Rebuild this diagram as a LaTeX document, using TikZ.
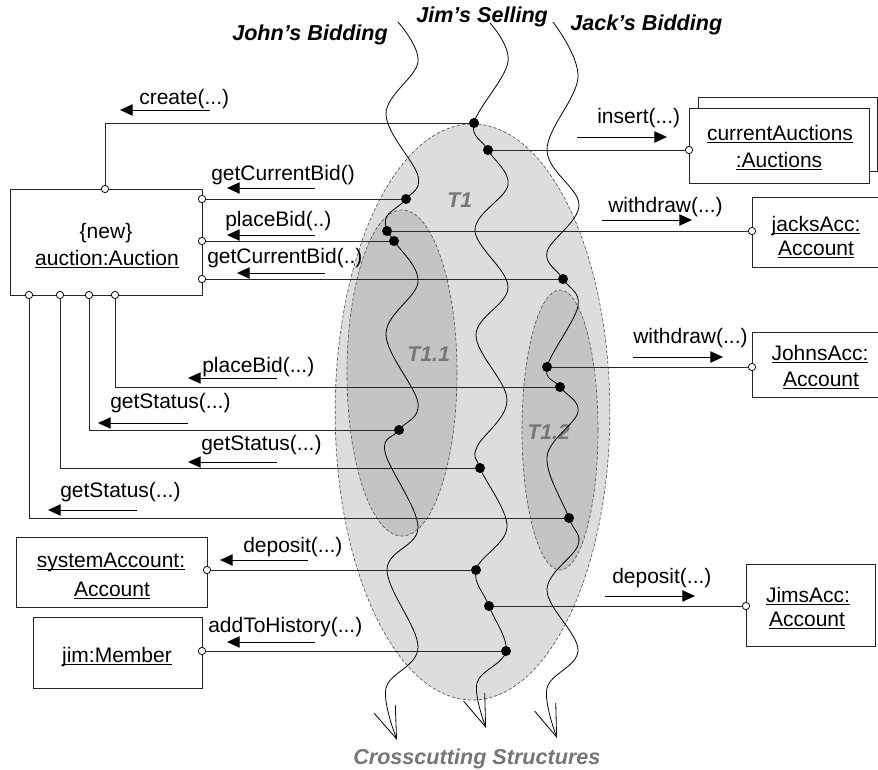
\documentclass[tikz,border=0pt]{standalone}
\usepackage{fontspec}
\setmainfont{Liberation Sans}
\usetikzlibrary{arrows.meta,shapes.geometric}

\definecolor{outerzone}{RGB}{221,221,221}
\definecolor{innerzone}{RGB}{196,196,196}
\definecolor{zonetext}{RGB}{118,118,118}
\definecolor{wirecol}{RGB}{40,40,40}

% underline at a fixed distance below the baseline
\newcommand\uln[1]{\setbox0\hbox{#1}\rlap{\rule[-2.2pt]{\wd0}{0.9pt}}\box0}
% short message arrow next to a call label
\newcommand\callarrow[4]{%
  \coordinate (#1s) at (#2,#4);
  \coordinate (#1t) at (#3,#4);
  \draw[msgarrow] (#1s) -- (#1t);}

\begin{document}
\begin{tikzpicture}[x=0.75pt,y=-0.75pt,
  font=\fontsize{15.75}{19}\selectfont,
  zone/.style={ellipse, draw=black!65, line width=0.5pt,
    dash pattern=on 2.5pt off 1.5pt, inner sep=0},
  zonelabel/.style={anchor=base west, inner sep=0, text=zonetext,
    font=\fontsize{16}{19}\selectfont\bfseries\itshape},
  obj/.style={rectangle, draw=black!85, line width=0.75pt, fill=white, inner sep=0},
  objtext/.style={anchor=base, inner sep=0},
  port/.style={circle, draw=black, line width=0.6pt, fill=white, inner sep=0,
    minimum size=5.5pt},
  joint/.style={circle, fill=black, inner sep=0, minimum size=7.5pt},
  wire/.style={draw=wirecol, line width=0.75pt},
  thread/.style={line width=0.6pt, black,
    -{Straight Barb[length=24pt,width=17pt,line width=0.6pt]}},
  call/.style={anchor=base west, inner sep=0},
  msgarrow/.style={line width=0.75pt, black,
    -{Triangle[length=9.5pt,width=8.5pt]}},
  title/.style={anchor=base west, inner sep=0,
    font=\fontsize{16.2}{19}\selectfont\bfseries\itshape}
]
\useasboundingbox (0,0) rectangle (878,769);

% ---- transaction zones ----
\node[zone, fill=outerzone, minimum width=206pt, minimum height=432pt] (T1) at (472.5,412) {};
\node[zone, fill=innerzone, minimum width=82.5pt, minimum height=244.5pt] (T11) at (402,373) {};
\node[zone, fill=innerzone, minimum width=57pt, minimum height=210pt] (T12) at (560,430) {};
\node[zonelabel] (T1lbl) at (447,207) {T1};
\node[zonelabel] (T11lbl) at (407,361) {T1.1};
\node[zonelabel] (T12lbl) at (527,439) {T1.2};

% ---- objects ----
\node[obj, minimum width=144pt, minimum height=79.5pt] (auction) at (106,242) {};
\node[objtext] (auctionA) at (106,238) {\{new\}};
\node[objtext] (auctionB) at (107,265) {\uln{auction:Auction}};

\node[obj, minimum width=134.25pt, minimum height=55.5pt] (curback) at (787.5,134) {};
\node[obj, minimum width=135pt, minimum height=56.25pt] (cur) at (779,145.5) {};
\node[objtext] (curA) at (780,140) {\uln{currentAuctions}};
\node[objtext] (curB) at (779,167) {\uln{:Auctions}};

\node[obj, minimum width=99.75pt, minimum height=52.5pt] (jacks) at (818.5,232) {};
\node[objtext] (jacksA) at (816,231) {\uln{jacksAcc:}};
\node[objtext] (jacksB) at (816,255) {\uln{Account}};

\node[obj, minimum width=99.75pt, minimum height=48.75pt] (johns) at (818.5,364.5) {};
\node[objtext] (johnsA) at (820,360) {\uln{JohnsAcc:}};
\node[objtext] (johnsB) at (821,386) {\uln{Account}};

\node[obj, minimum width=143.25pt, minimum height=52.5pt] (sys) at (111.5,572) {};
\node[objtext] (sysA) at (111,567) {\uln{systemAccount:}};
\node[objtext] (sysB) at (112,596) {\uln{Account}};

\node[obj, minimum width=126.75pt, minimum height=53.25pt] (jim) at (117.5,652.5) {};
\node[objtext] (jimA) at (117,662) {\uln{jim:Member}};

\node[obj, minimum width=96.75pt, minimum height=61.5pt] (jimsacc) at (810.5,605) {};
\node[objtext] (jimsA) at (808,602) {\uln{JimsAcc:}};
\node[objtext] (jimsB) at (807,626) {\uln{Account}};

% ---- ports ----
\node[port] (pTop) at (105,189) {};
\node[port] (pR1) at (202,199) {};
\node[port] (pR2) at (202,241) {};
\node[port] (pR3) at (202,279) {};
\node[port] (pB1) at (29,295) {};
\node[port] (pB2) at (60,295) {};
\node[port] (pB3) at (89,295) {};
\node[port] (pB4) at (115,295) {};
\node[port] (pCur) at (689,150) {};
\node[port] (pJacks) at (752,231) {};
\node[port] (pJohns) at (752,367) {};
\node[port] (pSys) at (207,570) {};
\node[port] (pJim) at (202,651) {};
\node[port] (pJims) at (746,606) {};

% ---- joints on the threads ----
\node[joint] (j1) at (406,199) {};
\node[joint] (j2) at (387,231) {};
\node[joint] (j3) at (394,241) {};
\node[joint] (j4) at (399,430) {};
\node[joint] (m1) at (474,123) {};
\node[joint] (m2) at (488,150) {};
\node[joint] (m3) at (480,468) {};
\node[joint] (m4) at (476,570) {};
\node[joint] (m5) at (489,606) {};
\node[joint] (m6) at (506,651) {};
\node[joint] (k1) at (563,279) {};
\node[joint] (k2) at (547,367) {};
\node[joint] (k3) at (560,387) {};
\node[joint] (k4) at (569,518) {};

% ---- threads ----
\draw[thread] plot[smooth, tension=0.6] coordinates {
  (398,22) (418,62) (386,114) (418,176) (j1) (387,216) (j2) (j3)
  (418,282) (386,334) (418,403) (j4) (385,452) (418,527) (387,570)
  (418,647) (386,688) (397,740)};
\draw[thread] plot[smooth, tension=0.6] coordinates {
  (490,23) (508,62) (m1) (m2) (508,185) (475,230) (508,287) (476,335)
  (507,400) (477,447) (m3) (507,527) (m4) (m5) (m6) (477,683) (486,728)};
\draw[thread] plot[smooth, tension=0.6] coordinates {
  (553,22) (578,77) (547,150) (579,205) (547,252) (k1) (578,306) (k2) (k3)
  (578,412) (547,457) (k4) (578,545) (547,590) (578,650) (547,688) (557,738)};

% ---- connectors ----
\draw[wire] (pTop) |- (m1);
\draw[wire] (m2) -- (pCur);
\draw[wire] (j1) -- (pR1);
\draw[wire] (j2) -- (pJacks);
\draw[wire] (j3) -- (pR2);
\draw[wire] (k1) -- (pR3);
\draw[wire] (k2) -- (pJohns);
\draw[wire] (k3) -| (pB4);
\draw[wire] (j4) -| (pB3);
\draw[wire] (m3) -| (pB2);
\draw[wire] (k4) -| (pB1);
\draw[wire] (m4) -- (pSys);
\draw[wire] (m5) -- (pJims);
\draw[wire] (m6) -- (pJim);

% ---- call labels ----
\node[call] (lCreate) at (139,104.5) {create(...)};
\node[call] (lGcb1) at (211,180) {getCurrentBid()};
\node[call] (lPb1) at (225,226) {placeBid(..)};
\node[call] (lGcb2) at (207,263) {getCurrentBid(..)};
\node[call] (lIns) at (597,123) {insert(...)};
\node[call] (lWd1) at (608,212) {withdraw(...)};
\node[call] (lWd2) at (633,343) {withdraw(...)};
\node[call] (lPb2) at (202,372) {placeBid(...)};
\node[call] (lGs1) at (110,408) {getStatus(...)};
\node[call] (lGs2) at (201,450) {getStatus(...)};
\node[call] (lGs3) at (60,497) {getStatus(...)};
\node[call] (lDep1) at (243,552) {deposit(...)};
\node[call] (lHist) at (208,632) {addToHistory(...)};
\node[call] (lDep2) at (612,583) {deposit(...)};

\callarrow{aCreate}{210}{120}{110}
\callarrow{aGcb1}{315}{227}{188}
\callarrow{aPb1}{315}{227}{235}
\callarrow{aGcb2}{325}{237}{273}
\callarrow{aIns}{577}{667}{137}
\callarrow{aWd1}{602}{692}{220}
\callarrow{aWd2}{633}{723}{357}
\callarrow{aPb2}{277}{188}{378}
\callarrow{aGs1}{188}{98}{423}
\callarrow{aGs2}{277}{188}{462}
\callarrow{aGs3}{137}{48}{510}
\callarrow{aDep1}{308}{220}{560}
\callarrow{aHist}{315}{227}{642}
\callarrow{aDep2}{605}{695}{596}

% ---- titles ----
\node[title] (tJohn) at (232,40) {John's Bidding};
\node[title] (tJim) at (416,22) {Jim's Selling};
\node[title] (tJack) at (570,30) {Jack's Bidding};
\node[title, text=zonetext] (tCross) at (353,764) {Crosscutting Structures};
\end{tikzpicture}
\end{document}
